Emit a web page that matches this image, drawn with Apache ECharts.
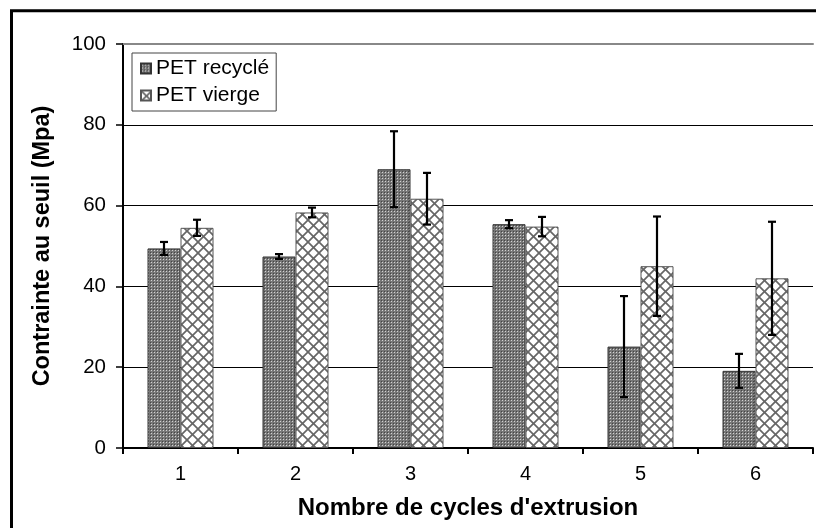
<!DOCTYPE html>
<html>
<head>
<meta charset="utf-8">
<script src="https://cdn.jsdelivr.net/npm/echarts@6/dist/echarts.min.js"></script>
<style>
  html, body { margin: 0; padding: 0; background: #fff; }
  #chart { width: 816px; height: 528px; }
</style>
</head>
<body>
<div id="chart"></div>
<script>
// Yield stress of recycled vs. virgin PET over successive extrusion cycles
const categories = ['1', '2', '3', '4', '5', '6'];
const recycled = [49.4, 47.4, 69.0, 55.4, 25.1, 19.1];
const recycledErr = [1.6, 0.6, 9.4, 1.0, 12.5, 4.2];
const virgin = [54.5, 58.3, 61.7, 54.8, 45.0, 42.0];
const virginErr = [2.0, 1.2, 6.4, 2.4, 12.3, 14.0];
const yTicks = { min: 0, max: 100, interval: 20 };

const FONT = '"Liberation Sans", Arial, sans-serif';
const BAR_W = 33;

// Fine dotted grey fill
function dottedPattern() {
  const c = document.createElement('canvas');
  c.width = 3; c.height = 3;
  const g = c.getContext('2d');
  g.fillStyle = '#777777'; g.fillRect(0, 0, 3, 3);
  g.fillStyle = '#d2d2d2'; g.fillRect(1, 1, 1, 1);
  g.fillStyle = '#444444'; g.fillRect(0, 0, 1, 1);
  return c;
}

// White fill with a grey diagonal lattice
function latticePattern() {
  const s = 11;
  const c = document.createElement('canvas');
  c.width = s; c.height = s;
  const g = c.getContext('2d');
  g.fillStyle = '#ffffff'; g.fillRect(0, 0, s, s);
  g.strokeStyle = '#666666'; g.lineWidth = 1.7;
  for (const o of [-s, 0, s]) {
    g.beginPath(); g.moveTo(o - 1, -1); g.lineTo(o + s + 1, s + 1); g.stroke();
    g.beginPath(); g.moveTo(o + s + 1, -1); g.lineTo(o - 1, s + 1); g.stroke();
  }
  return c;
}

function errorSeries(values, errs, offset) {
  return {
    type: 'custom',
    silent: true,
    z: 10,
    data: values.map((v, i) => [i, v - errs[i], v + errs[i]]),
    renderItem: function (params, api) {
      const lo = api.coord([api.value(0), api.value(1)]);
      const hi = api.coord([api.value(0), api.value(2)]);
      const x = lo[0] + offset;
      const half = 4;
      const style = { stroke: '#000', lineWidth: 2.2 };
      return {
        type: 'group',
        children: [
          { type: 'line', shape: { x1: x, y1: lo[1], x2: x, y2: hi[1] }, style: style },
          { type: 'line', shape: { x1: x - half, y1: lo[1], x2: x + half, y2: lo[1] }, style: style },
          { type: 'line', shape: { x1: x - half, y1: hi[1], x2: x + half, y2: hi[1] }, style: style }
        ]
      };
    }
  };
}

const chart = echarts.init(document.getElementById('chart'), null, { renderer: 'canvas' });

chart.setOption({
  backgroundColor: '#fff',
  animation: false,
  textStyle: { fontFamily: FONT },
  graphic: [{
    type: 'rect',
    shape: { x: 11.5, y: 10.8, width: 1000, height: 1000 },
    style: { fill: 'none', stroke: '#000', lineWidth: 3 },
    silent: true,
    z: 100
  }],
  grid: { left: 123, right: 3, top: 44, bottom: 80, containLabel: false },
  legend: {
    orient: 'vertical',
    left: 132,
    top: 53,
    data: ['PET recyclé', 'PET vierge'],
    itemWidth: 10,
    itemHeight: 10,
    itemGap: 6,
    padding: [5, 7, 5, 8],
    borderColor: '#444',
    borderWidth: 1,
    backgroundColor: '#fff',
    icon: 'rect',
    textStyle: { fontFamily: FONT, fontSize: 21, color: '#000' }
  },
  xAxis: [{
    type: 'category',
    data: categories,
    position: 'bottom',
    name: 'Nombre de cycles d\'extrusion',
    nameLocation: 'middle',
    nameGap: 48,
    nameTextStyle: { fontFamily: FONT, fontSize: 24, fontWeight: 'bold', color: '#000' },
    axisLine: { lineStyle: { color: '#000', width: 2 } },
    axisTick: { show: true, length: 6, lineStyle: { color: '#000', width: 2 } },
    axisLabel: { fontFamily: FONT, fontSize: 20, color: '#000', margin: 16 },
    splitLine: { show: false }
  }, {
    type: 'category',
    data: categories,
    position: 'top',
    axisLine: { lineStyle: { color: '#888', width: 2 } },
    axisTick: { show: false },
    axisLabel: { show: false },
    splitLine: { show: false }
  }],
  yAxis: {
    type: 'value',
    min: yTicks.min,
    max: yTicks.max,
    interval: yTicks.interval,
    name: 'Contrainte au seuil (Mpa)',
    nameLocation: 'middle',
    nameGap: 68,
    nameTextStyle: { fontFamily: FONT, fontSize: 23.5, fontWeight: 'bold', color: '#000' },
    axisLine: { show: true, lineStyle: { color: '#000', width: 2 } },
    axisTick: { show: true, length: 7, lineStyle: { color: '#000', width: 1.5 } },
    axisLabel: { fontFamily: FONT, fontSize: 20.5, color: '#000', margin: 17 },
    splitLine: {
      show: true,
      lineStyle: { color: ['#000', '#000', '#000', '#000', '#000', 'transparent'], width: 1 }
    }
  },
  series: [{
    name: 'PET recyclé',
    type: 'bar',
    data: recycled,
    barWidth: BAR_W,
    barGap: '0%',
    itemStyle: {
      color: { image: dottedPattern(), repeat: 'repeat' },
      borderColor: '#333',
      borderWidth: 1
    }
  }, {
    name: 'PET vierge',
    type: 'bar',
    data: virgin,
    barWidth: BAR_W,
    barGap: '0%',
    itemStyle: {
      color: { image: latticePattern(), repeat: 'repeat' },
      borderColor: '#555',
      borderWidth: 1
    }
  },
  errorSeries(recycled, recycledErr, -BAR_W / 2),
  errorSeries(virgin, virginErr, BAR_W / 2)
  ]
});
</script>
</body>
</html>
